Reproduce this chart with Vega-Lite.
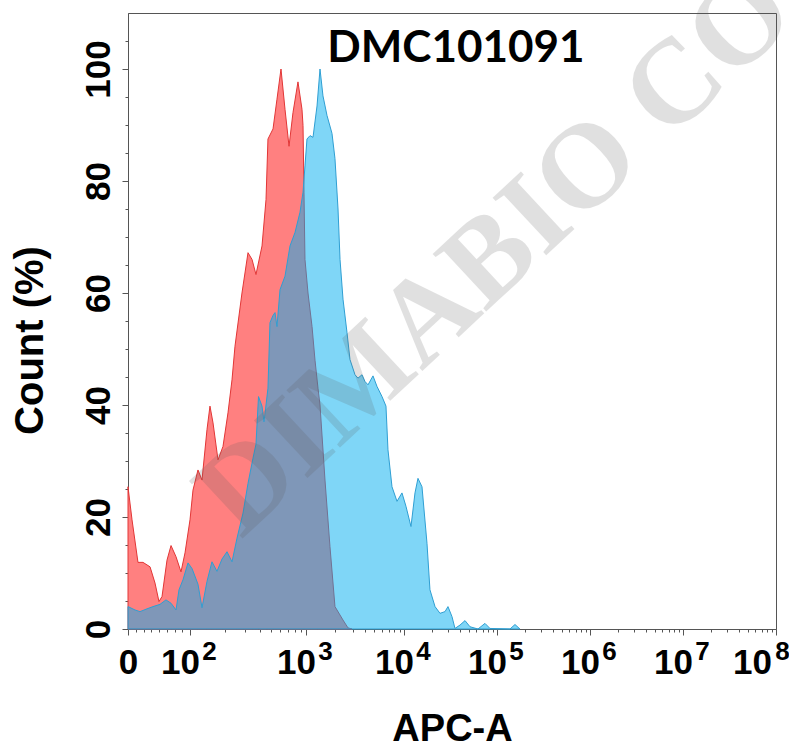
{
  "$schema": "https://vega.github.io/schema/vega-lite/v6.json",
  "width": 648,
  "height": 616,
  "autosize": {"type": "none"},
  "padding": {"left": 128, "top": 13, "right": 13, "bottom": 120},
  "background": "white",
  "config": {"view": {"stroke": "#555", "strokeWidth": 1}, "font": "Liberation Sans"},
  "datasets": {
    "control": [
      {"apc": 0, "count": 25.4}, {"apc": 6.2, "count": 19.5}, {"apc": 15.4, "count": 11.9}, {"apc": 23.1, "count": 11.9},
      {"apc": 34.0, "count": 11.1}, {"apc": 41.7, "count": 8.2}, {"apc": 47.8, "count": 4.9}, {"apc": 52.5, "count": 5.8},
      {"apc": 60.2, "count": 12.3}, {"apc": 66.4, "count": 14.9}, {"apc": 74.1, "count": 12.9}, {"apc": 81.8, "count": 10.2},
      {"apc": 88.0, "count": 13.6}, {"apc": 95.7, "count": 19.5}, {"apc": 100.3, "count": 24.8}, {"apc": 108.0, "count": 28.4},
      {"apc": 114.2, "count": 26.6}, {"apc": 121.9, "count": 35.6}, {"apc": 126.5, "count": 39.8}, {"apc": 131.2, "count": 36.8},
      {"apc": 138.9, "count": 30.2}, {"apc": 146.6, "count": 32.6}, {"apc": 154.3, "count": 38.6}, {"apc": 160.5, "count": 44.5},
      {"apc": 165.1, "count": 50.5}, {"apc": 175.9, "count": 60}, {"apc": 185.2, "count": 67.2}, {"apc": 191.4, "count": 66},
      {"apc": 197.5, "count": 63.3}, {"apc": 206.8, "count": 68.4}, {"apc": 213.0, "count": 76.7}, {"apc": 216.0, "count": 87.5},
      {"apc": 223.8, "count": 89.3}, {"apc": 229.9, "count": 94.6}, {"apc": 236.1, "count": 100}, {"apc": 242.3, "count": 92.8},
      {"apc": 248.5, "count": 86.2}, {"apc": 254.6, "count": 92.2}, {"apc": 262.3, "count": 97.7}, {"apc": 268.5, "count": 92.8},
      {"apc": 270.1, "count": 89.9}, {"apc": 271.6, "count": 78}, {"apc": 273.1, "count": 66}, {"apc": 277.8, "count": 60},
      {"apc": 284.0, "count": 54}, {"apc": 288.6, "count": 48}, {"apc": 293.2, "count": 43}, {"apc": 296.3, "count": 40},
      {"apc": 304.0, "count": 26.6}, {"apc": 311.7, "count": 14.7}, {"apc": 319.4, "count": 4}, {"apc": 331.8, "count": 1.6},
      {"apc": 339.5, "count": 0.2}, {"apc": 345.7, "count": 0}
    ],
    "sample": [
      {"apc": 0, "count": 4}, {"apc": 10.8, "count": 3.4}, {"apc": 18.5, "count": 3.1}, {"apc": 29.3, "count": 3.6},
      {"apc": 38.6, "count": 4}, {"apc": 49.4, "count": 4.4}, {"apc": 58.6, "count": 5.2}, {"apc": 66.4, "count": 4.6},
      {"apc": 74.1, "count": 3.4}, {"apc": 78.7, "count": 7}, {"apc": 84.9, "count": 8.8}, {"apc": 92.6, "count": 11.8},
      {"apc": 98.8, "count": 10.8}, {"apc": 108.0, "count": 8}, {"apc": 114.2, "count": 3.8}, {"apc": 121.9, "count": 8.5},
      {"apc": 129.6, "count": 12}, {"apc": 137.3, "count": 10.3}, {"apc": 145.1, "count": 12.5}, {"apc": 152.8, "count": 13.8},
      {"apc": 160.5, "count": 12}, {"apc": 168.2, "count": 16.2}, {"apc": 177.5, "count": 20.7}, {"apc": 185.2, "count": 26},
      {"apc": 192.9, "count": 30.5}, {"apc": 197.5, "count": 33}, {"apc": 201.4, "count": 41.5}, {"apc": 206.8, "count": 39.8},
      {"apc": 209.9, "count": 37}, {"apc": 213.0, "count": 40}, {"apc": 216.0, "count": 43}, {"apc": 219.1, "count": 54.7},
      {"apc": 223.8, "count": 56}, {"apc": 226.9, "count": 56.5}, {"apc": 229.9, "count": 54}, {"apc": 234.6, "count": 60.6},
      {"apc": 242.3, "count": 63}, {"apc": 250.0, "count": 68.4}, {"apc": 257.7, "count": 70.8}, {"apc": 265.4, "count": 74.4},
      {"apc": 270.1, "count": 78}, {"apc": 273.1, "count": 82.7}, {"apc": 276.2, "count": 87.5}, {"apc": 280.9, "count": 88.1},
      {"apc": 285.5, "count": 87.8}, {"apc": 291.7, "count": 93.4}, {"apc": 296.3, "count": 100}, {"apc": 300.9, "count": 95.2},
      {"apc": 307.1, "count": 91.7}, {"apc": 314.8, "count": 88.5}, {"apc": 319.4, "count": 84}, {"apc": 324.1, "count": 75},
      {"apc": 327.2, "count": 66}, {"apc": 331.8, "count": 58.9}, {"apc": 338.0, "count": 52.9}, {"apc": 342.6, "count": 48.1},
      {"apc": 350.3, "count": 45.4}, {"apc": 354.9, "count": 44.8}, {"apc": 361.1, "count": 45.4}, {"apc": 365.7, "count": 44.2},
      {"apc": 370.4, "count": 43.6}, {"apc": 378.1, "count": 45.2}, {"apc": 384.3, "count": 43.3}, {"apc": 392.0, "count": 41.5},
      {"apc": 398.1, "count": 39.8}, {"apc": 401.2, "count": 32}, {"apc": 407.4, "count": 25.4}, {"apc": 415.1, "count": 22.8},
      {"apc": 422.8, "count": 24.3}, {"apc": 429.0, "count": 21.9}, {"apc": 436.7, "count": 18.3}, {"apc": 442.9, "count": 24.3},
      {"apc": 447.5, "count": 26.9}, {"apc": 453.7, "count": 25.4}, {"apc": 461.4, "count": 15.3}, {"apc": 466.0, "count": 7},
      {"apc": 473.8, "count": 4}, {"apc": 481.5, "count": 2.8}, {"apc": 489.2, "count": 3.1}, {"apc": 493.8, "count": 4},
      {"apc": 500.0, "count": 2.2}, {"apc": 504.6, "count": 0.1}, {"apc": 512.3, "count": 0.7}, {"apc": 520.1, "count": 1.5},
      {"apc": 527.8, "count": 0.4}, {"apc": 540.1, "count": 0}, {"apc": 550.9, "count": 1}, {"apc": 558.6, "count": 0.1},
      {"apc": 589.5, "count": 0}, {"apc": 597.2, "count": 0.8}, {"apc": 604.9, "count": 0}
    ]
  },
  "layer": [
    {
      "data": {"name": "control"},
      "mark": {"type": "area", "color": "#ff8080", "stroke": "#e23636", "strokeWidth": 1},
      "encoding": {
        "x": {
          "field": "apc", "type": "quantitative",
          "scale": {"domain": [0, 1000], "nice": false, "zero": false},
          "axis": {
            "orient": "bottom",
            "values": [0, 95.7, 274.7, 425.9, 569.4, 713, 856.5, 1000],
            "labelExpr": "datum.value < 1 ? '0' : '10'",
            "labelFont": "Liberation Sans", "labelFontSize": 35, "labelFontWeight": "bold", "labelColor": "#000",
            "labelOverlap": false, "labelFlush": false, "labelBound": false, "labelPadding": 10,
            "labelOffset": {"condition": [{"test": "datum.value < 1", "value": 0}, {"test": "datum.value >= 999", "value": -24}], "value": -10},
            "tickSize": 6, "tickColor": "#555", "domainColor": "#555", "grid": false,
            "title": "APC-A", "titleFont": "Liberation Sans", "titleFontSize": 38, "titleFontWeight": "bold", "titleColor": "#000",
            "titleY": 111, "titleBaseline": "alphabetic"
          }
        },
        "y": {
          "field": "count", "type": "quantitative",
          "scale": {"domain": [0, 110], "nice": false},
          "axis": {
            "orient": "left",
            "values": [0, 20, 40, 60, 80, 100],
            "labelAngle": -90, "labelAlign": "center", "labelBaseline": "bottom",
            "labelFont": "Liberation Sans", "labelFontSize": 35, "labelFontWeight": "bold", "labelColor": "#000",
            "labelPadding": 6, "labelOverlap": false,
            "tickSize": 6, "tickColor": "#555", "domainColor": "#555", "grid": false,
            "title": "Count (%)", "titleFont": "Liberation Sans", "titleFontSize": 40, "titleFontWeight": "bold", "titleColor": "#000",
            "titleAngle": -90, "titleX": -98, "titleY": 327, "titleBaseline": "middle", "titleAlign": "center"
          }
        }
      }
    },
    {
      "data": {"name": "sample"},
      "mark": {"type": "area", "color": "#00aeef", "fillOpacity": 0.5, "stroke": "#2f9fd3", "strokeWidth": 1},
      "encoding": {
        "x": {
          "field": "apc", "type": "quantitative",
          "axis": {
            "orient": "bottom",
            "values": [12, 24, 36, 48, 60, 72, 84, 149.6, 181.1, 203.5, 220.8, 235.0, 247.0, 257.3, 266.5, 320.2, 346.8, 365.7, 380.4, 392.3, 402.5, 411.2, 419.0, 469.1, 494.3, 512.3, 526.2, 537.5, 547.2, 555.5, 562.8, 612.6, 637.9, 655.8, 669.8, 681.1, 690.8, 699.1, 706.4, 756.2, 781.4, 799.4, 813.3, 824.6, 834.3, 842.6, 849.9, 899.7, 924.9, 942.9, 956.8, 968.1, 977.8, 986.1, 993.4],
            "labels": false, "domain": false, "grid": false, "tickSize": 3, "tickColor": "#555", "title": null
          }
        },
        "y": {
          "field": "count", "type": "quantitative",
          "axis": {
            "orient": "left",
            "values": [5, 10, 15, 25, 30, 35, 45, 50, 55, 65, 70, 75, 85, 90, 95, 105],
            "labels": false, "domain": false, "grid": false, "tickSize": 3, "tickColor": "#555", "title": null
          }
        }
      }
    },
    {
      "data": {"values": [{"label": "DIMABIO CO., LTD"}]},
      "mark": {"type": "text", "font": "Liberation Serif", "fontWeight": "bold", "fontSize": 120, "angle": -43, "align": "left", "baseline": "alphabetic", "fill": "#5a5a5a", "opacity": 0.18},
      "encoding": {
        "x": {
          "datum": 174.4, "type": "quantitative",
          "axis": {
            "orient": "bottom",
            "values": [95.7, 274.7, 425.9, 569.4, 713, 856.5, 1000],
            "labelExpr": "datum.value < 100 ? '2' : datum.value < 300 ? '3' : datum.value < 450 ? '4' : datum.value < 600 ? '5' : datum.value < 750 ? '6' : datum.value < 900 ? '7' : '8'",
            "labelFont": "Liberation Sans", "labelFontSize": 26, "labelFontWeight": "bold", "labelColor": "#000",
            "labelBaseline": "top", "labelPadding": 9, "labelOverlap": false, "labelFlush": false, "labelBound": false,
            "labelOffset": {"condition": {"test": "datum.value >= 999", "value": 6}, "value": 19},
            "ticks": false, "tickSize": 0, "domain": false, "grid": false, "title": null
          }
        },
        "y": {"datum": 15.9, "type": "quantitative", "axis": null},
        "text": {"field": "label"}
      }
    },
    {
      "data": {"values": [{"label": "DMC101091"}]},
      "mark": {"type": "text", "font": "Lato", "fontWeight": "bold", "fontSize": 44, "align": "center", "baseline": "alphabetic", "fill": "#000"},
      "encoding": {
        "x": {"datum": 506, "type": "quantitative", "axis": null},
        "y": {"datum": 101.3, "type": "quantitative", "axis": null},
        "text": {"field": "label"}
      }
    }
  ],
  "resolve": {"axis": {"x": "independent", "y": "independent"}}
}
